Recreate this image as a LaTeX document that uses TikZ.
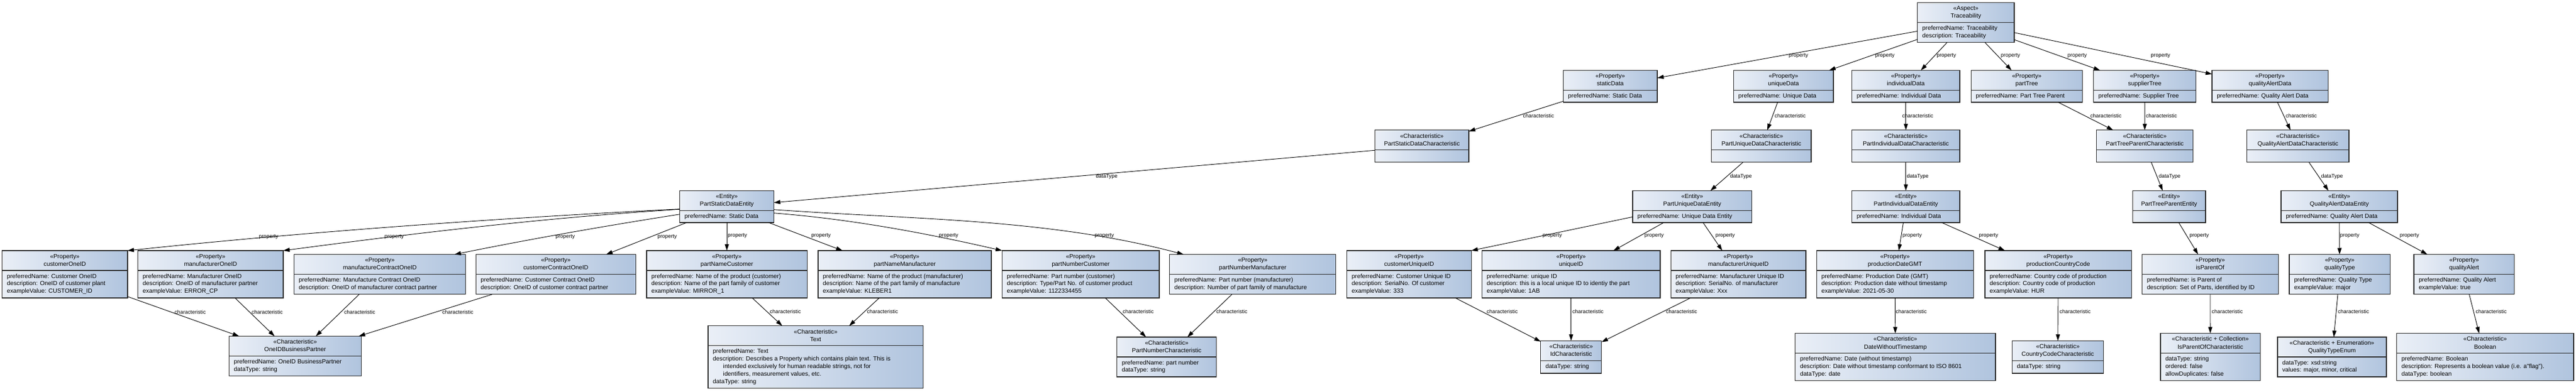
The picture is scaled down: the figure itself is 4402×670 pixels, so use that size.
\documentclass[tikz,border=0pt]{standalone}
\usepackage{fontspec}
\setmainfont{Liberation Sans}
\usetikzlibrary{calc,arrows.meta}
\definecolor{boxL}{HTML}{EAEFF7}
\definecolor{boxR}{HTML}{B0C4DE}
\definecolor{bord}{HTML}{2B2B2B}
\tikzset{
  umlbox/.style={rectangle, draw=bord, line width=1.3pt, left color=boxL, right color=boxR, inner sep=0pt, outer sep=0pt},
  divider/.style={draw=bord, line width=1.3pt},
  headtext/.style={font=\fontsize{10.3}{13.2}\selectfont, align=center, inner sep=0pt},
  attrtext/.style={font=\fontsize{10.3}{12.8}\selectfont, align=left, inner sep=0pt},
  conn/.style={draw=black, line width=0.9pt, -{Triangle[length=11pt,width=7pt]}},
  lbl/.style={font=\fontsize{9}{10}\selectfont, inner sep=0pt},
}
\newcommand{\umlbox}[8]{%
  \node[umlbox, minimum width={#4-#2}, minimum height={#5-#3}, anchor=north west] (#1) at (#2,#3) {};
  \draw[divider] ($(#1.north west)+(0,34)$) -- ($(#1.north east)+(0,34)$);
  \node[headtext, anchor=north] (#1-h) at ($(#1.north)+(0,3.8)$) {\strut#6\\#7};
  \node[attrtext, anchor=north west] (#1-a) at ($(#1.north west)+(8,38)$) {\strut#8};
}
\newcommand{\elabel}[4]{\node[lbl] (#1) at (#2,#3) {#4};}
\begin{document}
\begin{tikzpicture}[x=1pt,y=-1pt]
\fill[white] (0,0) rectangle (4402,670);
\useasboundingbox (0,0) rectangle (4402,670);
% row 1
\umlbox{trace}{3276.7}{4.3}{3442}{72.7}{«Aspect»}{Traceability}{preferredName: Traceability\\description: Traceability}
% row 2
\umlbox{sd}{2671.4}{120.4}{2832}{175}{«Property»}{staticData}{preferredName: Static Data}
\umlbox{ud}{2962.5}{120.4}{3133}{175}{«Property»}{uniqueData}{preferredName: Unique Data}
\umlbox{idd}{3164.6}{120.4}{3349}{175}{«Property»}{individualData}{preferredName: Individual Data}
\umlbox{ptree}{3368.2}{120.4}{3558.6}{175}{«Property»}{partTree}{preferredName: Part Tree Parent}
\umlbox{st}{3577.6}{120.4}{3752.6}{175}{«Property»}{supplierTree}{preferredName: Supplier Tree}
\umlbox{qad}{3780}{120.4}{3978.2}{175}{«Property»}{qualityAlertData}{preferredName: Quality Alert Data}
% row 3
\umlbox{psdc}{2349.4}{222.8}{2510}{277.8}{«Characteristic»}{PartStaticDataCharacteristic}{}
\umlbox{pudc}{2924.7}{222.8}{3095}{277.8}{«Characteristic»}{PartUniqueDataCharacteristic}{}
\umlbox{pidc}{3164.6}{222.8}{3349}{277.8}{«Characteristic»}{PartIndividualDataCharacteristic}{}
\umlbox{ptpc}{3582.5}{222.8}{3747.7}{277.8}{«Characteristic»}{PartTreeParentCharacteristic}{}
\umlbox{qadc}{3839.7}{222.8}{4014}{277.8}{«Characteristic»}{QualityAlertDataCharacteristic}{}
% row 4
\umlbox{pse}{1161.7}{326.5}{1322.4}{381}{«Entity»}{PartStaticDataEntity}{preferredName: Static Data}
\umlbox{pude}{2790}{326.5}{2993.4}{381}{«Entity»}{PartUniqueDataEntity}{preferredName: Unique Data Entity}
\umlbox{pide}{3164.6}{326.5}{3349}{381}{«Entity»}{PartIndividualDataEntity}{preferredName: Individual Data}
\umlbox{ptpe}{3644.4}{326.5}{3768.8}{381}{«Entity»}{PartTreeParentEntity}{}
\umlbox{qade}{3898}{326.5}{4097}{381}{«Entity»}{QualityAlertDataEntity}{preferredName: Quality Alert Data}
% row 5
\umlbox{coid}{3.6}{429}{217.9}{510}{«Property»}{customerOneID}{preferredName: Customer OneID\\description: OneID of customer plant\\exampleValue: CUSTOMER\_ID}
\umlbox{moid}{235.7}{429}{484}{510}{«Property»}{manufacturerOneID}{preferredName: Manufacturer OneID\\description: OneID of manufacturer partner\\exampleValue: ERROR\_CP}
\umlbox{mcoid}{502.5}{435.5}{795.7}{503.8}{«Property»}{manufactureContractOneID}{preferredName: Manufacture Contract OneID\\description: OneID of manufacturer contract partner}
\umlbox{ccoid}{813.2}{435.5}{1086.4}{503.8}{«Property»}{customerContractOneID}{preferredName: Customer Contract OneID\\description: OneID of customer contract partner}
\umlbox{pnc}{1104.9}{429}{1379.2}{510}{«Property»}{partNameCustomer}{preferredName: Name of the product (customer)\\description: Name of the part family of customer\\exampleValue: MIRROR\_1}
\umlbox{pnm}{1398}{429}{1694}{510}{«Property»}{partNameManufacturer}{preferredName: Name of the product (manufacturer)\\description: Name of the part family of manufacture\\exampleValue: KLEBER1}
\umlbox{pnuc}{1712.4}{429}{1981.1}{510}{«Property»}{partNumberCustomer}{preferredName: Part number (customer)\\description: Type/Part No. of customer product\\exampleValue: 1122334455}
\umlbox{pnum}{1998.6}{435.5}{2282.8}{503.8}{«Property»}{partNumberManufacturer}{preferredName: Part number (manufacturer)\\description: Number of part family of manufacture}
\umlbox{cuid}{2301.7}{429}{2514.3}{510}{«Property»}{customerUniqueID}{preferredName: Customer Unique ID\\description: SerialNo. Of customer\\exampleValue: 333}
\umlbox{uid}{2532.5}{429}{2837}{510}{«Property»}{uniqueID}{preferredName: unique ID\\description: this is a local unique ID to identiy the part\\exampleValue: 1AB}
\umlbox{muid}{2855.2}{429}{3086}{510}{«Property»}{manufacturerUniqueID}{preferredName: Manufacturer Unique ID\\description: SerialNo. of manufacturer\\exampleValue: Xxx}
\umlbox{pdg}{3104.3}{429}{3372.3}{510}{«Property»}{productionDateGMT}{preferredName: Production Date (GMT)\\description: Production date without timestamp\\exampleValue: 2021-05-30}
\umlbox{pcc}{3392}{429}{3642.3}{510}{«Property»}{productionCountryCode}{preferredName: Country code of production\\description: Country code of production\\exampleValue: HUR}
\umlbox{ipo}{3660.5}{435.5}{3893.2}{503.8}{«Property»}{isParentOf}{preferredName: is Parent of\\description: Set of Parts, identified by ID}
\umlbox{qt}{3912}{435.5}{4084.3}{503.8}{«Property»}{qualityType}{preferredName: Quality Type\\exampleValue: major}
\umlbox{qa}{4125}{435.5}{4296.6}{503.8}{«Property»}{qualityAlert}{preferredName: Quality Alert\\exampleValue: true}
% row 6
\umlbox{obp}{391.5}{575.5}{617.3}{643.8}{«Characteristic»}{OneIDBusinessPartner}{preferredName: OneID BusinessPartner\\dataType: string}
\umlbox{txt}{1210}{557.8}{1577.7}{664.5}{«Characteristic»}{Text}{preferredName: Text\\description: Describes a Property which contains plain text. This is\\\hspace*{17.5pt}intended exclusively for human readable strings, not for\\\hspace*{17.5pt}identifiers, measurement values, etc.\\dataType: string}
\umlbox{pnch}{1908.8}{577}{2078.6}{645}{«Characteristic»}{PartNumberCharacteristic}{preferredName: part number\\dataType: string}
\umlbox{idc}{2632.8}{583.4}{2736.7}{639}{«Characteristic»}{IdCharacteristic}{dataType: string}
\umlbox{dwt}{3067.8}{570.6}{3410}{651.7}{«Characteristic»}{DateWithoutTimestamp}{preferredName: Date (without timestamp)\\description: Date without timestamp conformant to ISO 8601\\dataType: date}
\umlbox{ccc}{3438.5}{583.4}{3594.5}{639}{«Characteristic»}{CountryCodeCharacteristic}{dataType: string}
\umlbox{ipoc}{3692}{570.6}{3862.2}{651.7}{«Characteristic + Collection»}{IsParentOfCharacteristic}{dataType: string\\ordered: false\\allowDuplicates: false}
\umlbox{qte}{3891.8}{577}{4078}{645}{«Characteristic + Enumeration»}{QualityTypeEnum}{dataType: xsd:string\\values: major, minor, critical}
\umlbox{bool}{4095.6}{570.6}{4397.8}{651.7}{«Characteristic»}{Boolean}{preferredName: Boolean\\description: Represents a boolean value (i.e. a"flag").\\dataType: boolean}
% connectors
\draw[conn] (trace) -- (sd);
\draw[conn] (trace) -- (ud);
\draw[conn] (trace) -- (idd);
\draw[conn] (trace) -- (ptree);
\draw[conn] (trace) -- (st);
\draw[conn] (trace) -- (qad);
\draw[conn] (sd) -- (psdc);
\draw[conn] (ud) -- (pudc);
\draw[conn] (idd) -- (pidc);
\draw[conn] (ptree) -- (ptpc);
\draw[conn] (st) -- (ptpc);
\draw[conn] (qad) -- (qadc);
\draw[conn] (psdc) -- (pse);
\draw[conn] (pudc) -- (pude);
\draw[conn] (pidc) -- (pide);
\draw[conn] (ptpc) -- (ptpe);
\draw[conn] (qadc) -- (qade);
\draw[conn] ($(pse.west)+(0,4)$) .. controls +(-314,16) and +(314,-33) .. (coid.north east);
\draw[conn] ($(pse.west)+(0,4.5)$) .. controls +(-226,14) and +(226,-30) .. (moid.north east);
\draw[conn] ($(pse.west)+(0,13)$) .. controls +(-128,20) and +(128,-26) .. ($(mcoid.north east)+(-19,0)$);
\draw[conn] (pse) -- (ccoid);
\draw[conn] (pse) -- (pnc);
\draw[conn] (pse) -- (pnm);
\draw[conn] ($(pse.east)+(0,11)$) .. controls +(130,10) and +(-130,-30) .. (pnuc.north west);
\draw[conn] ($(pse.east)+(0,5)$) .. controls +(233,17) and +(-233,-62) .. ($(pnum.north west)+(24,0)$);
\draw[conn] ($(pude.west)+(0,17.5)$) -- (cuid.north east);
\draw[conn] (pude) -- (uid);
\draw[conn] (pude) -- (muid);
\draw[conn] (pide) -- (pdg);
\draw[conn] (pide) -- (pcc);
\draw[conn] (ptpe) -- (ipo);
\draw[conn] (qade) -- (qt);
\draw[conn] (qade) -- (qa);
\draw[conn] (coid) -- (obp);
\draw[conn] (moid) -- (obp);
\draw[conn] (mcoid) -- (obp);
\draw[conn] (ccoid) -- (obp);
\draw[conn] (pnc) -- (txt);
\draw[conn] (pnm) -- (txt);
\draw[conn] (pnuc) -- (pnch);
\draw[conn] (pnum) -- (pnch);
\draw[conn] (cuid) -- (idc);
\draw[conn] (uid) -- (idc);
\draw[conn] (muid) -- (idc);
\draw[conn] (pdg) -- (dwt);
\draw[conn] (pcc) -- (ccc);
\draw[conn] (ipo) -- (ipoc);
\draw[conn] (qt) -- (qte);
\draw[conn] (qa) -- (bool);
% labels
\elabel{l1}{3073.4}{96}{property}
\elabel{l2}{3221}{96}{property}
\elabel{l3}{3326}{96}{property}
\elabel{l4}{3435.6}{96}{property}
\elabel{l5}{3549.5}{96}{property}
\elabel{l6}{3692}{96}{property}
\elabel{l7}{2629}{198.5}{characteristic}
\elabel{l8}{3059}{198.5}{characteristic}
\elabel{l9}{3277}{198.5}{characteristic}
\elabel{l10}{3598.7}{198.5}{characteristic}
\elabel{l11}{3693.6}{198.5}{characteristic}
\elabel{l12}{3932.5}{198.5}{characteristic}
\elabel{l13}{1891}{301.7}{dataType}
\elabel{l14}{2975}{301.7}{dataType}
\elabel{l15}{3277}{301.7}{dataType}
\elabel{l16}{3707.6}{301.7}{dataType}
\elabel{l17}{3985}{301.7}{dataType}
\elabel{l18}{459}{405.7}{property}
\elabel{l19}{673.5}{405.7}{property}
\elabel{l20}{965.8}{405.7}{property}
\elabel{l21}{1140}{405.7}{property}
\elabel{l22}{1260}{404}{property}
\elabel{l23}{1403}{404}{property}
\elabel{l24}{1621}{404}{property}
\elabel{l25}{1887}{404}{property}
\elabel{l26}{2652.5}{404}{property}
\elabel{l27}{2826.5}{404}{property}
\elabel{l28}{2948}{404}{property}
\elabel{l29}{3267.7}{404}{property}
\elabel{l30}{3398}{404}{property}
\elabel{l31}{3758}{404}{property}
\elabel{l32}{4015.4}{404}{property}
\elabel{l33}{4117.4}{404}{property}
\elabel{l34}{325}{534}{characteristic}
\elabel{l35}{456.6}{534}{characteristic}
\elabel{l36}{614.5}{534}{characteristic}
\elabel{l37}{782.3}{534}{characteristic}
\elabel{l38}{1342}{533.5}{characteristic}
\elabel{l39}{1508}{533.5}{characteristic}
\elabel{l40}{1945}{533.5}{characteristic}
\elabel{l41}{2105}{533.5}{characteristic}
\elabel{l42}{2567}{533.5}{characteristic}
\elabel{l43}{2713.5}{533.5}{characteristic}
\elabel{l44}{2873.5}{533.5}{characteristic}
\elabel{l45}{3266}{533.5}{characteristic}
\elabel{l46}{3546}{533.5}{characteristic}
\elabel{l47}{3806}{533.5}{characteristic}
\elabel{l48}{4021.8}{533.5}{characteristic}
\elabel{l49}{4257}{533.5}{characteristic}
\end{tikzpicture}
\end{document}
